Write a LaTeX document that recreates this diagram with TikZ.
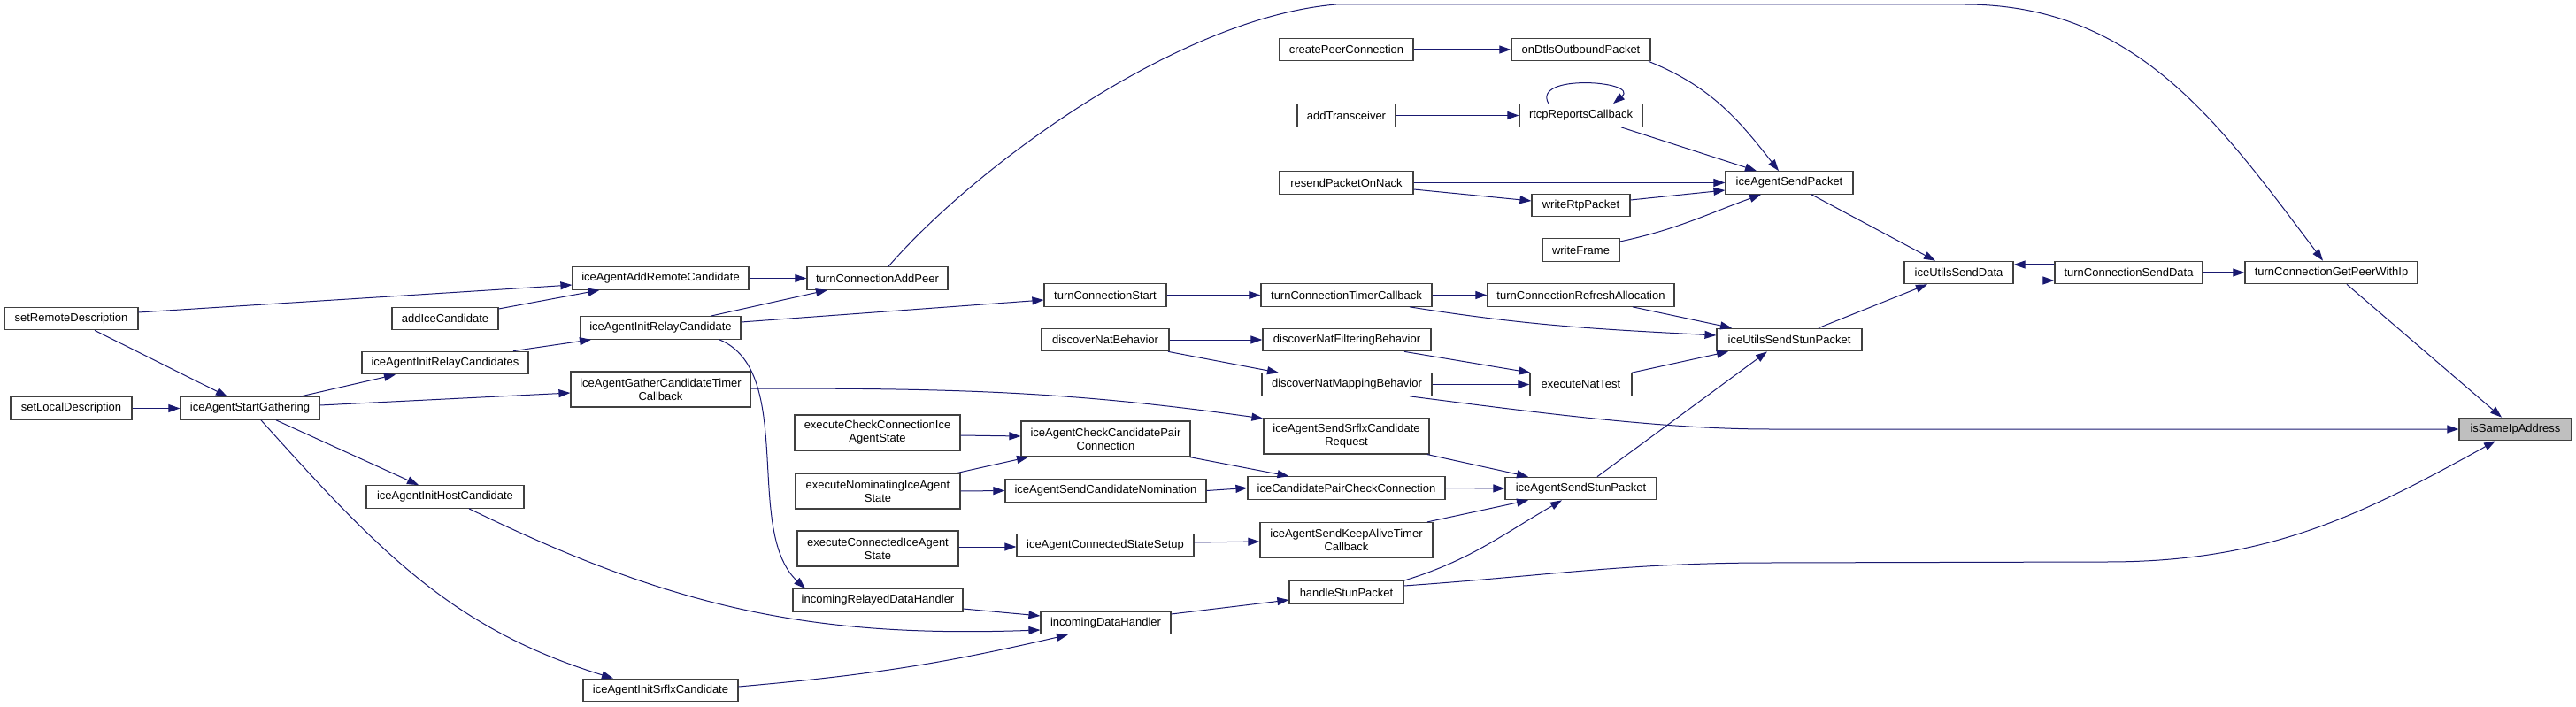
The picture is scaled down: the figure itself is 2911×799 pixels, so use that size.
\documentclass[tikz,border=0pt]{standalone}
\usepackage{fontspec}
\setmainfont{Liberation Sans}
\usepackage{xcolor}
\usepackage{tikz}
\usetikzlibrary{arrows.meta, positioning}
\definecolor{calledge}{HTML}{191970}
\definecolor{fnborder}{HTML}{404040}
\definecolor{rootfill}{HTML}{BFBFBF}

\begin{document}
\begin{tikzpicture}[x=1pt, y=-1pt,
  fn/.style={draw=fnborder, fill=white, line width=1.2pt, rectangle, inner sep=0pt,
    minimum height=25.5pt, minimum width=#1, align=center, font=\fontsize{13}{15}\selectfont},
  tall/.style={minimum height=40pt},
  call/.style={draw=calledge, line width=1pt, -{Triangle[length=13pt,width=9pt]}}]
\useasboundingbox (0,0) rectangle (2911,799);

% functions
\node[fn=151pt] (setRemote) at (80.5,360) {setRemoteDescription};
\node[fn=137pt] (setLocal) at (80.5,461.5) {setLocalDescription};
\node[fn=157pt] (startGather) at (282.5,461.5) {iceAgentStartGathering};
\node[fn=120pt] (addIce) at (503,360) {addIceCandidate};
\node[fn=188pt] (initRelays) at (503,410) {iceAgentInitRelayCandidates};
\node[fn=178pt] (initHost) at (503,561.5) {iceAgentInitHostCandidate};
\node[fn=199pt] (addRemote) at (746.5,314.5) {iceAgentAddRemoteCandidate};
\node[fn=181pt] (initRelay) at (746.5,370.5) {iceAgentInitRelayCandidate};
\node[fn=203pt, tall] (gatherTimer) at (746.5,440) {iceAgentGatherCandidateTimer\\Callback};
\node[fn=175pt] (initSrflx) at (746.5,780) {iceAgentInitSrflxCandidate};
\node[fn=159pt] (addPeer) at (991.5,314.5) {turnConnectionAddPeer};
\node[fn=187pt, tall] (execCheck) at (991.5,489) {executeCheckConnectionIce\\AgentState};
\node[fn=186pt, tall] (execNom) at (992,555) {executeNominatingIceAgent\\State};
\node[fn=182pt, tall] (execConn) at (992,620) {executeConnectedIceAgent\\State};
\node[fn=192pt] (relayedHandler) at (992,678.5) {incomingRelayedDataHandler};
\node[fn=138pt] (turnStart) at (1249,333.5) {turnConnectionStart};
\node[fn=144pt] (discoverNat) at (1249,384) {discoverNatBehavior};
\node[fn=191pt, tall] (checkPair) at (1249.5,496) {iceAgentCheckCandidatePair\\Connection};
\node[fn=227pt] (sendNom) at (1249.5,554.5) {iceAgentSendCandidateNomination};
\node[fn=200pt] (connSetup) at (1249,616) {iceAgentConnectedStateSetup};
\node[fn=147pt] (dataHandler) at (1249.5,704) {incomingDataHandler};
\node[fn=151pt] (createPeer) at (1521.5,56) {createPeerConnection};
\node[fn=111pt] (addTrans) at (1521.5,130.5) {addTransceiver};
\node[fn=151pt] (resend) at (1521.5,206.5) {resendPacketOnNack};
\node[fn=193pt] (timerCb) at (1521.5,333.5) {turnConnectionTimerCallback};
\node[fn=190pt] (natFilter) at (1522,384) {discoverNatFilteringBehavior};
\node[fn=192pt] (natMapping) at (1522,434.5) {discoverNatMappingBehavior};
\node[fn=187pt, tall] (srflxReq) at (1521.5,493) {iceAgentSendSrflxCandidate\\Request};
\node[fn=223pt] (pairCheck) at (1521.5,551.5) {iceCandidatePairCheckConnection};
\node[fn=195pt, tall] (keepAlive) at (1521.5,610.5) {iceAgentSendKeepAliveTimer\\Callback};
\node[fn=129pt] (handleStun) at (1521.5,669.5) {handleStunPacket};
\node[fn=157pt] (onDtls) at (1786.5,56) {onDtlsOutboundPacket};
\node[fn=139pt] (rtcpCb) at (1786.5,130.5) {rtcpReportsCallback};
\node[fn=111pt] (writeRtp) at (1786.5,232) {writeRtpPacket};
\node[fn=87pt] (writeFrame) at (1786.5,282.5) {writeFrame};
\node[fn=211pt] (refreshAlloc) at (1786.5,333.5) {turnConnectionRefreshAllocation};
\node[fn=115pt] (natTest) at (1786.5,434.5) {executeNatTest};
\node[fn=171pt] (sendStun) at (1786.5,552) {iceAgentSendStunPacket};
\node[fn=144pt] (sendPacket) at (2022,206.5) {iceAgentSendPacket};
\node[fn=164pt] (utilsStun) at (2022,384) {iceUtilsSendStunPacket};
\node[fn=123pt] (utilsData) at (2213.5,308) {iceUtilsSendData};
\node[fn=167pt] (turnSendData) at (2405.5,308) {turnConnectionSendData};
\node[fn=195pt] (getPeer) at (2634.5,308) {turnConnectionGetPeerWithIp};
\node[fn=127pt, fill=rootfill] (isSameIp) at (2842.5,485) {isSameIpAddress};

% calls
\draw[call] ([yshift=7pt]setRemote.east) -- ([yshift=-7.5pt]addRemote.west);
\draw[call] ([xshift=26.5pt]setRemote.south) -- ([xshift=-25.5pt]startGather.north);
\draw[call] (setLocal.east) -- (startGather.west);
\draw[call] ([yshift=11pt]addIce.east) -- ([xshift=-69pt]addRemote.south);
\draw[call] (addRemote.east) -- (addPeer.west);
\draw[call] ([xshift=56.5pt]startGather.north) -- ([xshift=-56pt]initRelays.south);
\draw[call] ([yshift=3.5pt]startGather.east) -- ([yshift=-4pt]gatherTimer.west);
\draw[call] ([xshift=29.5pt]startGather.south) -- ([xshift=-30pt]initHost.north);
\draw[call] ([xshift=12.5pt]startGather.south) to[out=-48,in=163] ([xshift=-53.5pt]initSrflx.north);
\draw[call] ([xshift=77pt]initRelays.north) -- ([xshift=-78.5pt]initRelay.south);
\draw[call] ([xshift=56.5pt]initRelay.north) -- ([xshift=-56.5pt]addPeer.south);
\draw[call] ([yshift=6.5pt]initRelay.east) -- ([yshift=-5.5pt]turnStart.west);
\draw[call] ([xshift=66.5pt]initRelay.south) .. controls (900,420) and (840,600) .. ([xshift=-82pt]relayedHandler.north);
\draw[call] ([xshift=12.5pt]addPeer.north) .. controls (1100,190) and (1330,20) .. (1510,5) -- (2220,5)
  to[out=0,in=127] ([xshift=-9.5pt]getPeer.north);
\draw[call] (turnStart.east) -- (timerCb.west);
\draw[call] (discoverNat.east) -- (natFilter.west);
\draw[call] ([xshift=71pt]discoverNat.south) -- ([xshift=-77pt]natMapping.north);
\draw[call] (timerCb.east) -- (refreshAlloc.west);
\draw[call] ([xshift=71.5pt]timerCb.south) to[out=-9,in=177] ([yshift=5pt]utilsStun.west);
\draw[call] ([xshift=58.5pt]refreshAlloc.south) -- ([xshift=-65pt]utilsStun.north);
\draw[call] ([xshift=65pt]natFilter.south) -- ([xshift=-57pt]natTest.north);
\draw[call] (natMapping.east) -- (natTest.west);
\draw[call] ([xshift=71pt]natMapping.south) .. controls (1743,467) and (1880,485) .. (2000,485) -- (isSameIp.west);
\draw[call] ([xshift=57.5pt]natTest.north) -- ([xshift=-69pt]utilsStun.south);
\draw[call] (createPeer.east) -- (onDtls.west);
\draw[call] ([xshift=76.5pt]onDtls.south) to[out=-22,in=128] ([xshift=-12pt]sendPacket.north);
\draw[call] (addTrans.east) -- (rtcpCb.west);
\draw[call] ([xshift=-36.5pt]rtcpCb.north) to[out=120,in=40,looseness=1.4] ([xshift=36.5pt]rtcpCb.north);
\draw[call] ([xshift=45.5pt]rtcpCb.south) -- ([xshift=-37pt]sendPacket.north);
\draw[call] (resend.east) -- (sendPacket.west);
\draw[call] ([yshift=-7.5pt]resend.east) -- ([yshift=5pt]writeRtp.west);
\draw[call] ([yshift=6pt]writeRtp.east) -- ([yshift=-8.5pt]sendPacket.west);
\draw[call] ([yshift=9.5pt]writeFrame.east) to[out=12,in=-160] ([xshift=-32pt]sendPacket.south);
\draw[call] ([xshift=25pt]sendPacket.south) -- ([xshift=-26.5pt]utilsData.north);
\draw[call] ([xshift=33pt]utilsStun.north) -- ([xshift=-35.5pt]utilsData.south);
\draw[call] ([yshift=-9pt]utilsData.east) -- ([yshift=-9pt]turnSendData.west);
\draw[call] ([yshift=9pt]turnSendData.west) -- ([yshift=9pt]utilsData.east);
\draw[call] (turnSendData.east) -- (getPeer.west);
\draw[call] ([xshift=17.5pt]getPeer.south) -- ([xshift=-15.5pt]isSameIp.north);
\draw[call] ([yshift=1pt]gatherTimer.east) to[out=0,in=172] ([yshift=20pt]srflxReq.west);
\draw[call] ([yshift=-3pt]execCheck.east) -- ([yshift=3pt]checkPair.west);
\draw[call] ([xshift=90pt]execNom.north) -- ([xshift=-87.5pt]checkPair.south);
\draw[call] (execNom.east) -- (sendNom.west);
\draw[call] ([yshift=2pt]execConn.east) -- ([yshift=-2pt]connSetup.west);
\draw[call] ([xshift=95pt]checkPair.south) -- ([xshift=-65pt]pairCheck.north);
\draw[call] (sendNom.east) -- (pairCheck.west);
\draw[call] ([yshift=3pt]connSetup.east) -- ([yshift=-1.5pt]keepAlive.west);
\draw[call] ([yshift=-9.5pt]relayedHandler.east) -- ([yshift=8pt]dataHandler.west);
\draw[call] ([xshift=27pt]initHost.south) to[out=-26,in=182] ([yshift=-8pt]dataHandler.west);
\draw[call] ([yshift=4pt]initSrflx.east) to[out=5,in=-167] ([xshift=-42.5pt]dataHandler.south);
\draw[call] ([yshift=10pt]dataHandler.east) -- ([yshift=-8.5pt]handleStun.west);
\draw[call] ([xshift=91.5pt]srflxReq.south) -- ([xshift=-59.5pt]sendStun.north);
\draw[call] (pairCheck.east) -- (sendStun.west);
\draw[call] ([xshift=91.5pt]keepAlive.north) -- ([xshift=-59.5pt]sendStun.south);
\draw[call] ([xshift=65pt]handleStun.north) to[out=17,in=-150] ([xshift=-21.5pt]sendStun.south);
\draw[call] ([yshift=7.5pt]handleStun.east) to[out=4,in=180] (2000,636) -- (2380,635)
  to[out=0,in=-151] ([xshift=-22.5pt]isSameIp.south);
\draw[call] ([xshift=18.5pt]sendStun.north) -- ([xshift=-25pt]utilsStun.south);
\end{tikzpicture}
\end{document}
